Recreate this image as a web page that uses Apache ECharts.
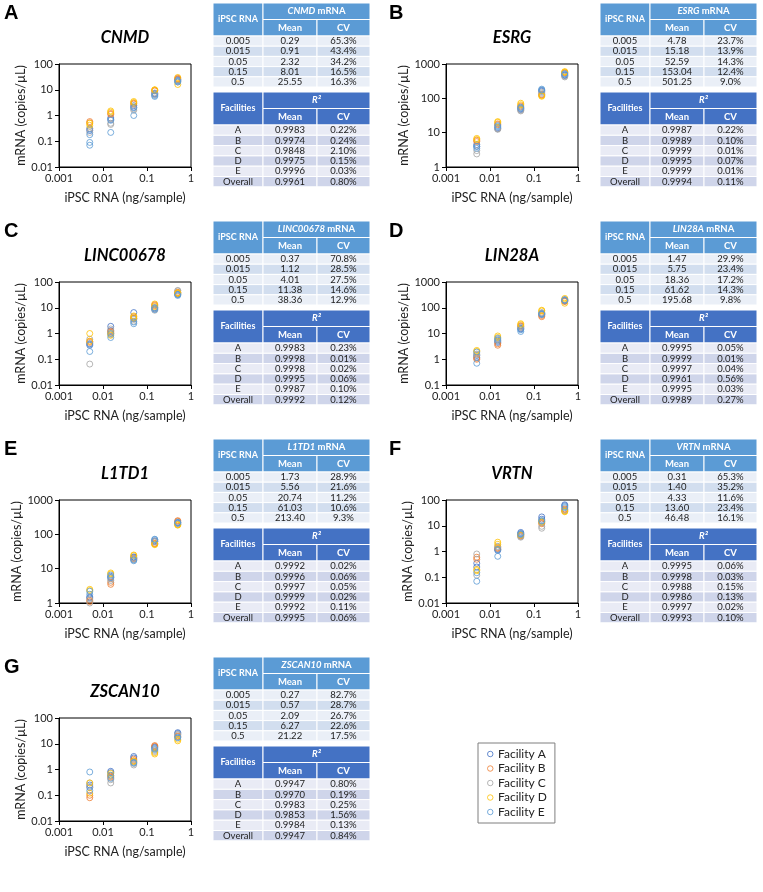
<!DOCTYPE html>
<html><head><meta charset="utf-8">
<script src="https://cdn.jsdelivr.net/npm/echarts@6/dist/echarts.min.js"></script>
<style>html,body{margin:0;padding:0;background:#fff}#c{width:763px;height:892px}</style>
</head><body><div id="c"></div>
<script>
// ---------- data ----------
const concentrations = [0.005, 0.015, 0.05, 0.15, 0.5];
const concLabels = ['0.005', '0.015', '0.05', '0.15', '0.5'];
const facilityNames = ['Facility A', 'Facility B', 'Facility C', 'Facility D', 'Facility E'];
const facilityLabels = ['A', 'B', 'C', 'D', 'E', 'Overall'];
const panelLetters = ['A', 'B', 'C', 'D', 'E', 'F', 'G'];
const genes = ['CNMD', 'ESRG', 'LINC00678', 'LIN28A', 'L1TD1', 'VRTN', 'ZSCAN10'];
const yMins = [0.01, 1, 0.01, 0.1, 1, 0.01, 0.01];
const yMaxs = [100, 1000, 100, 1000, 1000, 100, 100];
const xMin = 0.001, xMax = 1;

// replicate measurements: [facility][concentration][replicates]
const cnmdPoints = [
  [[0.30,0.26],[0.80,0.70],[2.4,2.1],[7.2,6.8],[23,25]],
  [[0.58,0.52],[1.2,1.1],[3.0,2.8],[9.5,9.0],[28,26]],
  [[0.32,0.22],[0.50,0.45],[1.8,1.6],[7.5,6.5],[21,20]],
  [[0.50,0.42],[1.5,1.35],[3.5,3.2],[10,9.8],[30,16]],
  [[0.07,0.09,0.18],[0.22,0.65],[1.0,2.0],[5.5,6.0],[20,22]]
];
const esrgPoints = [
  [[4.5,4.0],[14,13],[50,47],[170,160],[480,460]],
  [[6.0,5.5],[18,17],[60,56],[130,125],[560,540]],
  [[2.4,3.0],[13,12.5],[45,43],[150,140],[440,420]],
  [[6.8,6.3],[21,20],[72,65],[115,120],[600,580]],
  [[4.0,3.5],[15,16],[52,55],[185,175],[500,520]]
];
const linc00678Points = [
  [[0.40,0.35],[1.9,1.3],[6.5,3.8],[9.0,10],[35,33]],
  [[0.50,0.45],[1.1,1.2],[4.5,4.0],[12,13],[40,38]],
  [[0.065,0.60],[0.9,1.5],[3.5,3.0],[8.0,9.5],[45,47]],
  [[1.0,0.5],[1.0,0.85],[4.0,4.8],[14,11],[38,36]],
  [[0.20,0.38],[0.7,1.0],[2.4,2.8],[10,8.5],[30,32]]
];
const lin28aPoints = [
  [[1.4,1.2],[5.0,4.5],[16,15],[60,55],[200,190]],
  [[1.0,1.1],[3.5,4.0],[20,19],[45,50],[180,175]],
  [[1.6,1.5],[6.0,5.5],[18,17],[65,62],[210,205]],
  [[2.2,2.0],[8.0,7.0],[24,22],[80,75],[150,230]],
  [[0.7,1.9],[5.5,6.5],[12,14],[55,58],[190,200]]
];
const l1td1Points = [
  [[1.5,1.4],[6.0,5.5],[22,21],[65,62],[220,210]],
  [[1.1,1.2],[3.5,4.0],[19,20],[55,53],[250,240]],
  [[1.0,1.3],[5.0,4.5],[20,19],[62,60],[200,195]],
  [[2.5,2.3],[7.0,7.5],[24,25],[52,50],[190,185]],
  [[1.8,2.2],[5.5,6.5],[18,17],[70,72],[215,225]]
];
const vrtnPoints = [
  [[0.35,0.25],[1.2,1.1],[5.5,5.0],[22,18],[60,65]],
  [[0.60,0.50],[1.3,1.4],[4.0,4.2],[12,13],[45,42]],
  [[0.80,0.12],[1.5,1.6],[3.8,3.6],[8.0,9.5],[40,38]],
  [[0.20,0.18],[2.3,1.9],[4.5,4.4],[14,15],[35,37]],
  [[0.07,0.15],[0.65,1.2],[4.8,4.6],[15,16],[55,50]]
];
const zscan10Points = [
  [[0.20,0.25],[0.85,0.75],[3.2,2.8],[7.0,7.5],[25,27]],
  [[0.08,0.10],[0.50,0.55],[2.5,2.2],[8.5,8.0],[20,19]],
  [[0.30,0.22],[0.30,0.40],[1.5,1.7],[5.0,5.5],[22,23]],
  [[0.30,0.12],[0.70,0.60],[2.0,2.1],[4.0,4.5],[13,15]],
  [[0.80,0.15],[0.60,0.45],[1.8,1.9],[6.5,6.0],[18,17]]
];

// table values
const cnmdMean = ['0.29','0.91','2.32','8.01','25.55'];
const cnmdCV = ['65.3%','43.4%','34.2%','16.5%','16.3%'];
const cnmdR2 = ['0.9983','0.9974','0.9848','0.9975','0.9996','0.9961'];
const cnmdR2CV = ['0.22%','0.24%','2.10%','0.15%','0.03%','0.80%'];
const esrgMean = ['4.78','15.18','52.59','153.04','501.25'];
const esrgCV = ['23.7%','13.9%','14.3%','12.4%','9.0%'];
const esrgR2 = ['0.9987','0.9989','0.9999','0.9995','0.9999','0.9994'];
const esrgR2CV = ['0.22%','0.10%','0.01%','0.07%','0.01%','0.11%'];
const lincMean = ['0.37','1.12','4.01','11.38','38.36'];
const lincCV = ['70.8%','28.5%','27.5%','14.6%','12.9%'];
const lincR2 = ['0.9983','0.9998','0.9998','0.9995','0.9987','0.9992'];
const lincR2CV = ['0.23%','0.01%','0.02%','0.06%','0.10%','0.12%'];
const lin28aMean = ['1.47','5.75','18.36','61.62','195.68'];
const lin28aCV = ['29.9%','23.4%','17.2%','14.3%','9.8%'];
const lin28aR2 = ['0.9995','0.9999','0.9997','0.9961','0.9995','0.9989'];
const lin28aR2CV = ['0.05%','0.01%','0.04%','0.56%','0.03%','0.27%'];
const l1td1Mean = ['1.73','5.56','20.74','61.03','213.40'];
const l1td1CV = ['28.9%','21.6%','11.2%','10.6%','9.3%'];
const l1td1R2 = ['0.9992','0.9996','0.9997','0.9999','0.9992','0.9995'];
const l1td1R2CV = ['0.02%','0.06%','0.05%','0.02%','0.11%','0.06%'];
const vrtnMean = ['0.31','1.40','4.33','13.60','46.48'];
const vrtnCV = ['65.3%','35.2%','11.6%','23.4%','16.1%'];
const vrtnR2 = ['0.9995','0.9998','0.9988','0.9986','0.9997','0.9993'];
const vrtnR2CV = ['0.06%','0.03%','0.15%','0.13%','0.02%','0.10%'];
const zscanMean = ['0.27','0.57','2.09','6.27','21.22'];
const zscanCV = ['82.7%','28.7%','26.7%','22.6%','17.5%'];
const zscanR2 = ['0.9947','0.9970','0.9983','0.9853','0.9984','0.9947'];
const zscanR2CV = ['0.80%','0.19%','0.25%','1.56%','0.13%','0.84%'];

const allPoints = [cnmdPoints, esrgPoints, linc00678Points, lin28aPoints, l1td1Points, vrtnPoints, zscan10Points];
const allMeans = [cnmdMean, esrgMean, lincMean, lin28aMean, l1td1Mean, vrtnMean, zscanMean];
const allCVs = [cnmdCV, esrgCV, lincCV, lin28aCV, l1td1CV, vrtnCV, zscanCV];
const allR2 = [cnmdR2, esrgR2, lincR2, lin28aR2, l1td1R2, vrtnR2, zscanR2];
const allR2CV = [cnmdR2CV, esrgR2CV, lincR2CV, lin28aR2CV, l1td1R2CV, vrtnR2CV, zscanR2CV];

// ---------- styling / layout ----------
const facilityColors = ['#4472C4', '#ED7D31', '#A5A5A5', '#FFC000', '#5B9BD5'];
const FONT = 'Lato, "Open Sans", sans-serif';
const rowPitch = 218;
const colPlotLeft = [59, 446];
const colTableLeft = [213, 600];
const colLetterX = [4, 389];
const plotW = 132, plotH = 103, plotTop0 = 64;
const tableColW = [50, 54, 53];

const chart = echarts.init(document.getElementById('c'), null, {renderer: 'canvas'});

const grids = [], xAxes = [], yAxes = [], series = [], graphics = [];
const fmt = v => String(+(+v).toPrecision(6));

genes.forEach((gene, g) => {
  const col = g % 2, row = Math.floor(g / 2);
  const top = plotTop0 + row * rowPitch;
  const left = colPlotLeft[col];
  grids.push({left, top, width: plotW, height: plotH, show: true, borderColor: '#000', borderWidth: 1, backgroundColor: 'transparent'});
  xAxes.push({
    type: 'log', logBase: 10, gridIndex: g, min: xMin, max: xMax,
    name: 'iPSC RNA (ng/sample)', nameLocation: 'middle', nameGap: 24,
    nameTextStyle: {fontFamily: FONT, fontSize: 12.5, color: '#222'},
    axisLine: {show: true, onZero: false, lineStyle: {color: '#000', width: 1}},
    axisTick: {show: true, length: 4, lineStyle: {color: '#000'}},
    axisLabel: {fontFamily: FONT, fontSize: 11, color: '#222', margin: 6, formatter: fmt},
    splitLine: {show: false}, minorTick: {show: false}
  });
  yAxes.push({
    type: 'log', logBase: 10, gridIndex: g, min: yMins[g], max: yMaxs[g],
    name: 'mRNA (copies/µL)', nameLocation: 'middle', nameGap: 30,
    nameTextStyle: {fontFamily: FONT, fontSize: 12.5, color: '#222'},
    axisLine: {show: true, onZero: false, lineStyle: {color: '#000', width: 1}},
    axisTick: {show: true, length: 4, lineStyle: {color: '#000'}},
    axisLabel: {fontFamily: FONT, fontSize: 11, color: '#222', margin: 6, formatter: fmt},
    splitLine: {show: false}, minorTick: {show: false}
  });
  allPoints[g].forEach((fac, f) => {
    const data = [];
    fac.forEach((reps, i) => reps.forEach(v => data.push([concentrations[i], v])));
    series.push({
      type: 'scatter', name: facilityNames[f], xAxisIndex: g, yAxisIndex: g,
      symbol: 'circle', symbolSize: 6, data,
      itemStyle: {color: 'rgba(0,0,0,0)', borderColor: facilityColors[f], borderWidth: 1},
      emphasis: {disabled: true}, silent: true
    });
  });

  // panel letter & title
  graphics.push({type: 'text', silent: true, style: {x: colLetterX[col], y: 3 + row * rowPitch, text: panelLetters[g],
    fontFamily: '"Liberation Sans", Arial, sans-serif', fontWeight: 'bold', fontSize: 20, fill: '#000', textAlign: 'left', textVerticalAlign: 'top', align: 'left', verticalAlign: 'top'}});
  graphics.push({type: 'text', silent: true, style: {x: left + plotW / 2, y: 38 + row * rowPitch, text: gene,
    fontFamily: FONT, fontWeight: 'bold', fontStyle: 'italic', fontSize: 16.5, fill: '#000', textAlign: 'center', textVerticalAlign: 'middle', align: 'center', verticalAlign: 'middle'}});

  // tables
  buildTable(colTableLeft[col], 3 + row * rowPitch, g);
});

function cellRect(x, y, w, h, fill) {
  graphics.push({type: 'rect', silent: true, shape: {x, y, width: w, height: h}, style: {fill, stroke: '#fff', lineWidth: 1}});
}
function cellText(x, y, text, opts) {
  const o = opts || {};
  const style = {x, y, text, fontFamily: FONT, fontSize: o.size || 9.5, fontWeight: o.bold ? 'bold' : 'normal',
    fill: o.color || '#222', textAlign: 'center', textVerticalAlign: 'middle', align: 'center', verticalAlign: 'middle'};
  if (o.rich) style.rich = o.rich;
  graphics.push({type: 'text', silent: true, style});
}

function buildTable(x0, y0, g) {
  const [w1, w2, w3] = tableColW;
  const hh = 16.5, rh = 10.2, rh2 = 10.3;
  const light1 = '#5B9BD5', dark1 = '#4472C4';
  const band1a = '#EAEFF7', band1b = '#D2DEEF';
  const band2a = '#E9EBF5', band2b = '#CFD5EA';
  const richHead = {
    i: {fontFamily: FONT, fontSize: 9.5, fontWeight: 'bold', fontStyle: 'italic', fill: '#fff'},
    n: {fontFamily: FONT, fontSize: 9.5, fontWeight: 'bold', fill: '#fff'}
  };
  // table 1 header
  cellRect(x0, y0, w1, hh * 2, light1);
  cellRect(x0 + w1, y0, w2 + w3, hh, light1);
  cellRect(x0 + w1, y0 + hh, w2, hh, light1);
  cellRect(x0 + w1 + w2, y0 + hh, w3, hh, light1);
  cellText(x0 + w1 / 2, y0 + hh, 'iPSC RNA', {bold: true, color: '#fff', size: 9});
  cellText(x0 + w1 + (w2 + w3) / 2, y0 + hh / 2, '{i|' + genes[g] + '}{n| mRNA}', {bold: true, color: '#fff', rich: richHead});
  cellText(x0 + w1 + w2 / 2, y0 + hh * 1.5, 'Mean', {bold: true, color: '#fff'});
  cellText(x0 + w1 + w2 + w3 / 2, y0 + hh * 1.5, 'CV', {bold: true, color: '#fff'});
  let y = y0 + hh * 2;
  concLabels.forEach((lab, i) => {
    const fill = i % 2 === 0 ? band1a : band1b;
    cellRect(x0, y, w1, rh, fill);
    cellRect(x0 + w1, y, w2, rh, fill);
    cellRect(x0 + w1 + w2, y, w3, rh, fill);
    cellText(x0 + w1 / 2, y + rh / 2, lab);
    cellText(x0 + w1 + w2 / 2, y + rh / 2, allMeans[g][i]);
    cellText(x0 + w1 + w2 + w3 / 2, y + rh / 2, allCVs[g][i]);
    y += rh;
  });
  // table 2
  y += 5;
  cellRect(x0, y, w1, hh * 2, dark1);
  cellRect(x0 + w1, y, w2 + w3, hh, dark1);
  cellRect(x0 + w1, y + hh, w2, hh, dark1);
  cellRect(x0 + w1 + w2, y + hh, w3, hh, dark1);
  cellText(x0 + w1 / 2, y + hh, 'Facilities', {bold: true, color: '#fff', size: 9});
  cellText(x0 + w1 + (w2 + w3) / 2, y + hh / 2, '{i|R²}', {bold: true, color: '#fff', rich: richHead});
  cellText(x0 + w1 + w2 / 2, y + hh * 1.5, 'Mean', {bold: true, color: '#fff'});
  cellText(x0 + w1 + w2 + w3 / 2, y + hh * 1.5, 'CV', {bold: true, color: '#fff'});
  y += hh * 2;
  facilityLabels.forEach((lab, i) => {
    const fill = i % 2 === 0 ? band2a : band2b;
    cellRect(x0, y, w1, rh2, fill);
    cellRect(x0 + w1, y, w2, rh2, fill);
    cellRect(x0 + w1 + w2, y, w3, rh2, fill);
    cellText(x0 + w1 / 2, y + rh2 / 2, lab);
    cellText(x0 + w1 + w2 / 2, y + rh2 / 2, allR2[g][i]);
    cellText(x0 + w1 + w2 + w3 / 2, y + rh2 / 2, allR2CV[g][i]);
    y += rh2;
  });
}

chart.setOption({
  animation: false,
  backgroundColor: '#fff',
  grid: grids, xAxis: xAxes, yAxis: yAxes, series,
  legend: {
    orient: 'vertical', left: 478, top: 743, padding: [5, 8, 5, 9],
    borderColor: '#7F7F7F', borderWidth: 1, itemGap: 2.5, itemWidth: 5.5, itemHeight: 10.5,
    selectedMode: false,
    textStyle: {fontFamily: FONT, fontSize: 12, color: '#222', padding: [0, 0, 0, 0]},
    data: facilityNames.map((n, i) => ({name: n, icon: 'circle',
      itemStyle: {color: 'rgba(0,0,0,0)', borderColor: facilityColors[i], borderWidth: 1}}))
  },
  graphic: graphics
});
</script></body></html>
